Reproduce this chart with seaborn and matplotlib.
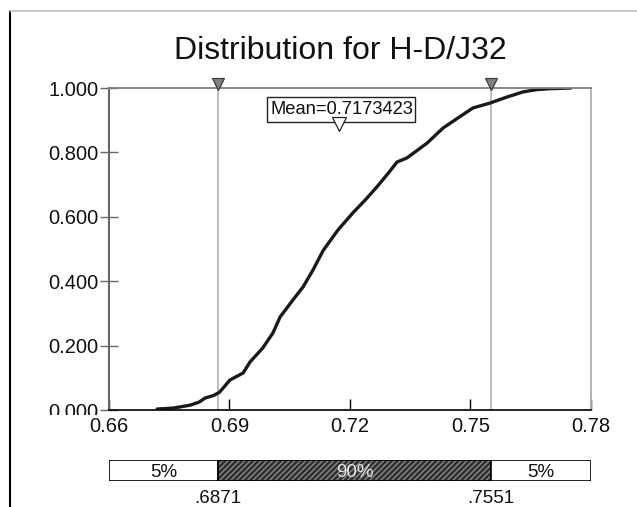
import matplotlib
matplotlib.use("Agg")
import matplotlib.pyplot as plt
from matplotlib.lines import Line2D
from matplotlib.patches import Rectangle
from matplotlib.transforms import Bbox
import seaborn as sns
import pandas as pd

# ---- data ----
title = "Distribution for H-D/J32"
cdf_x = [0.6720, 0.6760, 0.6802, 0.6825, 0.6839, 0.6860, 0.6875, 0.6901, 0.6934,
         0.6951, 0.6983, 0.7008, 0.7026, 0.7058, 0.7083, 0.7108, 0.7133, 0.7170,
         0.7207, 0.7240, 0.7267, 0.7295, 0.7317, 0.7342, 0.7392, 0.7432, 0.7470,
         0.7506, 0.7548, 0.7591, 0.7631, 0.7665, 0.7700, 0.7750]
cdf_p = [0.003, 0.006, 0.015, 0.025, 0.037, 0.045, 0.055, 0.093, 0.115,
         0.149, 0.193, 0.239, 0.289, 0.342, 0.382, 0.435, 0.495, 0.559,
         0.612, 0.655, 0.693, 0.735, 0.770, 0.783, 0.829, 0.876, 0.908,
         0.938, 0.953, 0.972, 0.988, 0.995, 0.998, 1.000]
x_ticks = [0.66, 0.69, 0.72, 0.75, 0.78]
x_tick_labels = ["0.66", "0.69", "0.72", "0.75", "0.78"]
y_ticks = [0.0, 0.2, 0.4, 0.6, 0.8, 1.0]
y_tick_labels = ["0.000", "0.200", "0.400", "0.600", "0.800", "1.000"]
p_low, p_high = 0.6871, 0.7551
p_labels = [".6871", ".7551"]
seg_labels = ["5%", "90%", "5%"]
mean_val = 0.7173423
mean_label = "Mean=0.7173423"
xmin, xmax = 0.66, 0.78

sns.set_style("white")
plt.rcParams['font.family'] = ['Liberation Sans', 'DejaVu Sans']

W, H = 637, 507
fig = plt.figure(figsize=(W / 100, H / 100), dpi=100)

def fx(px):
    return px / W

def fy(py):
    return 1 - py / H

# frame lines
fig.add_artist(Line2D([fx(10), fx(10)], [0, fy(11)], color="black", lw=1.5))
fig.add_artist(Line2D([fx(10), 1], [fy(11), fy(11)], color="#c0c0c0", lw=1.2))

ax = fig.add_axes([fx(109), fy(410), fx(591) - fx(109), fy(88) - fy(410)])
df = pd.DataFrame({"x": cdf_x, "p": cdf_p})
sns.lineplot(data=df, x="x", y="p", ax=ax, color="#1a1a1a", lw=2.4, estimator=None, sort=False)

ax.set_xlim(xmin, xmax)
ax.set_ylim(0, 1)
ax.set_xlabel("")
ax.set_ylabel("")
ax.set_xticks(x_ticks)
ax.set_xticklabels(x_tick_labels)
ax.set_yticks(y_ticks)
ax.set_yticklabels(y_tick_labels)
ax.tick_params(axis="x", direction="in", length=8, width=1, color="black",
               labelsize=14.5, pad=5, bottom=True)
ax.tick_params(axis="y", direction="inout", length=13, width=1, color="#666666",
               labelsize=14.5, pad=1, left=True)
for lab in ax.get_xticklabels() + ax.get_yticklabels():
    lab.set_color("#111111")
ax.spines["bottom"].set_color("black")
ax.spines["bottom"].set_linewidth(1.2)
ax.spines["left"].set_color("#666666")
ax.spines["left"].set_linewidth(1.5)
ax.spines["top"].set_color("#808080")
ax.spines["top"].set_linewidth(1.3)
ax.spines["right"].set_color("#b0b0b0")
ax.spines["right"].set_linewidth(1.3)
for s in ax.spines.values():
    s.set_visible(True)

# clip the lowest y label a little below the axis line, as in the original
ylabs = ax.get_yticklabels()
ylabs[0].set_clip_box(Bbox.from_extents(0, H - 415, W, H))
ylabs[0].set_clip_on(True)

# percentile lines and markers
for v in (p_low, p_high):
    ax.axvline(v, color="#b8b8b8", lw=1.3, zorder=1)
    ax.plot([v], [1.013], marker="v", markersize=9, markerfacecolor="#808080",
            markeredgecolor="#333333", markeredgewidth=0.8, clip_on=False, zorder=5)

# mean box and marker
ax.add_patch(Rectangle((0.69934, 0.8944), 0.03684, 0.0776, facecolor="white",
                       edgecolor="#222222", lw=1, zorder=4))
ax.text(0.7180, 0.9335, mean_label, fontsize=13.2, ha="center", va="center", zorder=5,
        color="#111111")
ax.plot([mean_val], [0.887], marker="v", markersize=9.5, markerfacecolor="white",
        markeredgecolor="#222222", markeredgewidth=0.9, zorder=6)

fig.text(fx(340), fy(59), title, fontsize=23, ha="center", va="baseline", color="#111111")

# bottom bar
bax = fig.add_axes([fx(109), fy(481), fx(591) - fx(109), fy(460) - fy(481)])
bax.set_xlim(xmin, xmax)
bax.set_ylim(0, 1)
bax.axis("off")
lefts = [xmin, p_low, p_high]
widths = [p_low - xmin, p_high - p_low, xmax - p_high]
faces = ["white", "#2e2e2e", "white"]
for l, w, fc in zip(lefts, widths, faces):
    if fc == "white":
        bax.barh(0.5, w, left=l, height=1, color=fc, edgecolor="black", lw=1.2)
    else:
        bax.barh(0.5, w, left=l, height=1, color=fc, edgecolor="#8a8a8a", lw=0,
                 hatch="//////")
        bax.barh(0.5, w, left=l, height=1, color="none", edgecolor="black", lw=1.2)
for l, w, t in zip(lefts, widths, seg_labels):
    bax.text(l + w / 2, 0.42, t, ha="center", va="center", fontsize=13.5,
             color="#e8e8e8" if t == "90%" else "#111111")
for v, t in zip((p_low, p_high), p_labels):
    bax.text(v, -0.85, t, ha="center", va="center", fontsize=13.5, color="#111111")

fig.savefig("out.png", dpi=100)
